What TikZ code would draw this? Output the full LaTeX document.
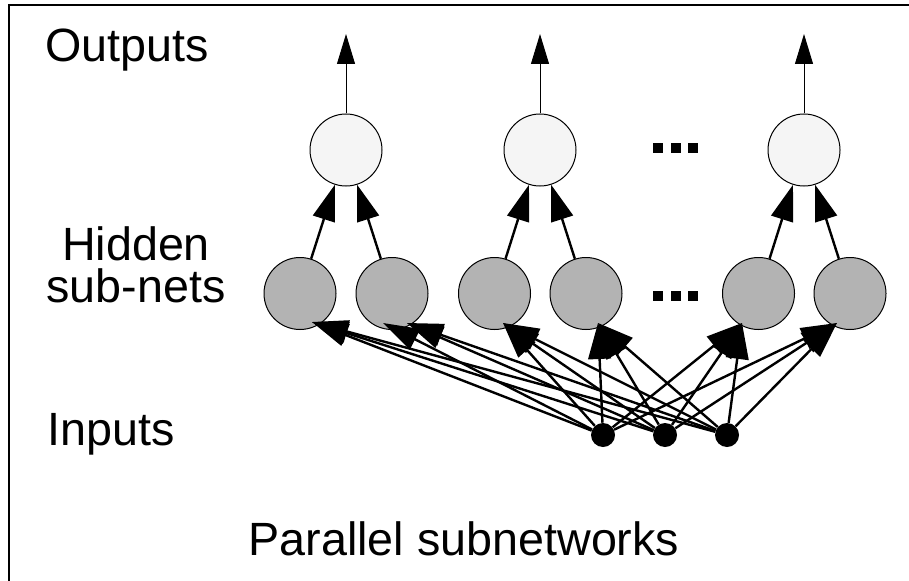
\documentclass[tikz,border=0pt]{standalone}
\usepackage{fontspec}
\setmainfont{Liberation Sans}
\usetikzlibrary{arrows.meta}
\definecolor{outfill}{HTML}{F5F5F5}
\definecolor{hidfill}{HTML}{B3B3B3}
\begin{document}
\begin{tikzpicture}[x=0.75pt,y=-0.75pt,
  lbl/.style={font=\fontsize{35}{31.5}\selectfont, inner sep=0pt},
  outnode/.style={circle, draw, line width=0.75pt, fill=outfill, minimum size=54pt, inner sep=0pt},
  hidnode/.style={circle, draw, line width=0.75pt, fill=hidfill, minimum size=54pt, inner sep=0pt},
  innode/.style={circle, fill=black, minimum size=18pt, inner sep=0pt},
  inarrow/.style={line width=1.8pt, -{Triangle[length=27pt,width=17pt]}},
  hidarrow/.style={line width=1.8pt, -{Triangle[length=27pt,width=17pt]}},
  outarrow/.style={line width=0.75pt, -{Triangle[length=22.5pt,width=13.5pt]}},
  dotsq/.style={rectangle, fill=black, minimum size=7.5pt, inner sep=0pt}
]
\useasboundingbox (0,0) rectangle (909,581);
% frame (top and left edges)
\draw[line width=1.5pt] (9,581) -- (9,5) -- (909,5);

% labels
\node[lbl, anchor=base] (louts) at (127,62) {Outputs};
\node[lbl, align=center] (lhid) at (136,265) {Hidden\\sub-nets};
\node[lbl, anchor=base] (lins) at (111,445) {Inputs};
\node[lbl, anchor=base] (ltitle) at (464,555) {Parallel subnetworks};

% output units
\node[outnode] (o1) at (346,150) {};
\node[outnode] (o2) at (540,150) {};
\node[outnode] (o3) at (804,150) {};

% hidden sub-net units
\node[hidnode] (h1) at (300,293.5) {};
\node[hidnode] (h2) at (392,293.5) {};
\node[hidnode] (h3) at (494.5,293.5) {};
\node[hidnode] (h4) at (586,293.5) {};
\node[hidnode] (h5) at (758.5,293.5) {};
\node[hidnode] (h6) at (850,293.5) {};

% input units
\node[innode] (i1) at (603,435) {};
\node[innode] (i2) at (665,435) {};
\node[innode] (i3) at (727,435) {};

% ellipsis marks
\foreach \k/\x in {1/658,2/675.5,3/693}{
  \node[dotsq] (dt\k) at (\x,148) {};
  \node[dotsq] (db\k) at (\x,296) {};
}

% output arrows
\coordinate (e1) at (346,34);
\coordinate (e2) at (540,34);
\coordinate (e3) at (804,34);
\draw[outarrow] (o1) -- (e1);
\draw[outarrow] (o2) -- (e2);
\draw[outarrow] (o3) -- (e3);

% hidden to output
\draw[hidarrow] (h1) -- (o1);
\draw[hidarrow] (h2) -- (o1);
\draw[hidarrow] (h3) -- (o2);
\draw[hidarrow] (h4) -- (o2);
\draw[hidarrow] (h5) -- (o3);
\draw[hidarrow] (h6) -- (o3);

% input to hidden targets
\coordinate (t1) at (312,322);
\coordinate (t2a) at (383,323);
\coordinate (t2b) at (407,323);
\coordinate (t3) at (503,323);
\coordinate (t4) at (598,323);
\coordinate (t5) at (742,323);
\coordinate (t6) at (837,323);

\foreach \i in {i1,i2,i3}{
  \draw[inarrow] (\i) -- (t1);
  \draw[inarrow] (\i) -- (t3);
  \draw[inarrow] (\i) -- (t4);
  \draw[inarrow] (\i) -- (t5);
  \draw[inarrow] (\i) -- (t6);
}
\draw[inarrow] (i1) -- (t2a);
\draw[inarrow] (i2) -- (t2b);
\draw[inarrow] (i3) -- (t2b);
\end{tikzpicture}
\end{document}
